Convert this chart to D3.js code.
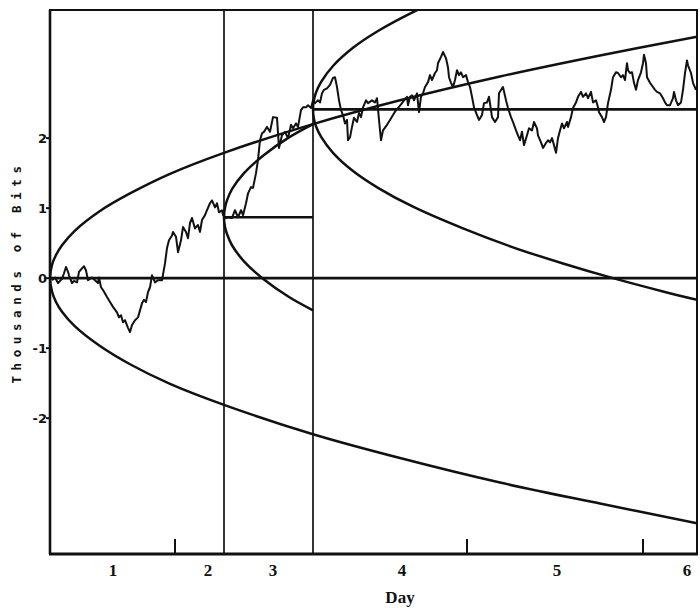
<!DOCTYPE html>
<html>
<head>
<meta charset="utf-8">
<script src="https://cdn.jsdelivr.net/npm/d3@7"></script>
<style>
  body { margin: 0; background: #fff; }
  svg { display: block; }
  .dayText { font-family: "Liberation Serif", serif; font-weight: bold; font-size: 17px; fill: #111; }
  .tickText { font-family: "DejaVu Sans", sans-serif; font-weight: bold; font-size: 13px; fill: #111; }
  .yTitle { font-family: "DejaVu Sans Mono", monospace; font-weight: bold; font-size: 12.5px; fill: #111; letter-spacing: 5.6px; }
</style>
</head>
<body>
<div id="chart"></div>
<script>
// random walk, time units vs thousands of bits
var walkT = [2,5,8,12,14,16,18,19,22,24,27,29,32,34,36,38,42,45,48,49,51,53,57,60,63,67,69,71,73,75,78,80,82,85,88,90,92,94,96,98,100,102,105,108,
  112,115,117,119,122,123,126,128,131,133,136,138,140,142,145,148,150,152,155,157,160,162,165,167,169,172,173,176,178,182,185,188,191,193,196,198,201,203,206,208,210,212,214,217,
  220,223,227,229,232,235,238,241,243,246,248,251,253,256,258,261,263,265,268,270,272,274,277,280,283,285,287,289,291,293,295,297,298,300,302,304,307,309,311,313,316,318,322,325,
  327,329,331,333,337,340,343,346,348,352,354,357,358,360,362,364,367,369,371,373,375,378,380,382,385,387,388,391,393,396,398,399,401,403,405,407,409,411,413,416,418,420,422,424,427,429,432,434,437,439,
  441,442,445,448,449,452,453,456,458,461,463,466,468,470,472,474,477,479,482,484,487,488,491,493,496,498,500,502,504,506,508,510,512,514,517,518,521,523,526,528,531,533,536,538,541,543,546,548,
  549,552,554,556,558,561,563,566,568,571,573,575,577,578,580,582,584,586,588,591,593,594,596,597,600,603,605,607,610,613,615,617,620,623,624,626,628,631,633,635,637,638,641,643,646];
var walkV = [-0.03,0.01,-0.07,-0.01,0.07,0.16,0.09,0.04,-0.07,-0.04,-0.06,0.09,0.14,0.17,0.11,-0.03,0.01,-0.03,-0.07,0.01,-0.13,-0.17,-0.27,-0.34,-0.41,-0.49,-0.56,-0.53,-0.63,-0.6,-0.71,-0.77,-0.67,-0.6,-0.56,-0.46,-0.36,-0.31,-0.34,-0.2,-0.13,0.04,-0.06,-0.03,
  -0.03,0.21,0.43,0.54,0.61,0.66,0.59,0.37,0.54,0.73,0.66,0.57,0.79,0.86,0.71,0.76,0.66,0.83,0.9,0.97,1.07,1.11,1.01,1.07,0.94,0.97,0.9,0.86,0.87,0.86,0.97,0.87,0.97,0.9,1.07,1.21,1.3,1.29,1.5,1.69,1.97,2.07,2.09,2.16,
  2.09,2.3,2.29,1.86,2.04,2.09,2.0,2.19,2.14,2.21,2.16,2.4,2.44,2.44,2.47,2.43,2.54,2.5,2.54,2.51,2.64,2.69,2.71,2.76,2.86,2.87,2.73,2.54,2.4,2.33,2.21,2.26,1.97,2.01,2.16,2.29,2.23,2.36,2.3,2.44,2.54,2.5,2.54,2.51,
  2.57,2.26,1.97,2.11,2.19,2.26,2.33,2.4,2.43,2.5,2.54,2.59,2.47,2.59,2.61,2.54,2.64,2.37,2.59,2.64,2.73,2.8,2.9,2.83,2.93,2.97,3.07,3.16,3.23,3.14,3.01,2.87,2.79,2.73,2.83,2.97,2.9,2.94,2.87,2.9,2.8,2.73,2.59,2.44,2.33,2.26,2.33,2.5,2.51,2.59,
  2.4,2.3,2.23,2.3,2.64,2.71,2.73,2.54,2.43,2.3,2.23,2.11,2.04,1.97,2.09,1.9,2.04,2.14,2.11,2.23,2.14,2.04,1.94,1.86,1.93,1.97,1.94,2.0,1.9,1.79,2.0,2.11,2.21,2.14,2.23,2.16,2.3,2.43,2.51,2.59,2.66,2.59,2.64,2.57,2.66,2.51,2.54,2.44,
  2.37,2.3,2.23,2.3,2.5,2.69,2.87,2.94,2.93,2.87,2.9,2.83,3.07,2.97,2.93,2.94,2.79,2.69,2.83,2.94,3.07,3.19,3.07,2.87,2.79,2.73,2.69,2.66,2.64,2.57,2.51,2.47,2.47,2.57,2.66,2.54,2.47,2.51,2.69,2.93,3.11,3.04,2.93,2.79,2.69];

// first test boundaries (start at time 0)
var p1T = [0,2,6,12,25,50,80,120,174,263,350,450,550,647];
var p1Upper = [0,0.19,0.33,0.47,0.68,0.96,1.21,1.49,1.79,2.2,2.54,2.88,3.18,3.45];
var p1Lower = [0,-0.19,-0.34,-0.48,-0.69,-0.97,-1.23,-1.51,-1.81,-2.23,-2.57,-2.92,-3.22,-3.5];

// second test boundaries (restart at first vertical)
var p2T = [174,175,177,182,194,214,239,263];
var p2Upper = [0.87,1.01,1.11,1.27,1.5,1.76,2.01,2.2];
var p2Lower = [0.87,0.73,0.63,0.47,0.24,-0.02,-0.27,-0.46];

// third test boundaries (restart at second vertical)
var p3UpperT = [263,264,266,271,283,303,328,363,383];
var p3Upper = [2.41,2.55,2.65,2.8,3.03,3.29,3.53,3.8,3.93];
var p3LowerT = [263,264,266,271,283,303,328,363,413,463,513,563,613,647];
var p3Lower = [2.41,2.27,2.17,2.02,1.79,1.53,1.29,1.02,0.71,0.44,0.21,0.0,-0.19,-0.31];

// restart levels
var levelStart = [0,174,263];
var levelEnd = [647,263,647];
var levelValue = [0,0.87,2.41];

var restartT = [174,263];
var dayTickT = [125,417,593];
var dayLabels = ["1","2","3","4","5","6"];
var dayLabelT = [63,158,223,352,507,637];
var yTicks = [-2,-1,0,1,2];

var svgWidth = 700;
var svgHeight = 608;

var svg = d3.select("#chart").append("svg")
  .attr("width", svgWidth)
  .attr("height", svgHeight);

var xScale = d3.scaleLinear().domain([0,647]).range([50,697]);
var yScale = d3.scaleLinear().domain([-3.94,3.83]).range([554,10]);

svg.append("clipPath").attr("id","plotClip")
  .append("rect")
  .attr("x", xScale(0)).attr("y", yScale(3.83))
  .attr("width", xScale(647)-xScale(0))
  .attr("height", yScale(-3.94)-yScale(3.83));

var plot = svg.append("g").attr("clip-path","url(#plotClip)");

// boundary curves: upper branch reversed, then lower branch
function boundary(upT, up, loT, lo) {
  var pts = [];
  for (var i = upT.length-1; i >= 0; i--) pts.push([upT[i], up[i]]);
  for (var j = 1; j < loT.length; j++) pts.push([loT[j], lo[j]]);
  return pts;
}
var curveLine = d3.line()
  .x(d => xScale(d[0]))
  .y(d => yScale(d[1]))
  .curve(d3.curveCatmullRom.alpha(0.5));

[[p1T,p1Upper,p1T,p1Lower],[p2T,p2Upper,p2T,p2Lower],[p3UpperT,p3Upper,p3LowerT,p3Lower]].forEach(function(p) {
  plot.append("path")
    .attr("d", curveLine(boundary(p[0],p[1],p[2],p[3])))
    .attr("fill","none")
    .attr("stroke","#111")
    .attr("stroke-width",2.5);
});

// restart levels
levelValue.forEach(function(v,i) {
  plot.append("line")
    .attr("x1", xScale(levelStart[i])).attr("x2", xScale(levelEnd[i]))
    .attr("y1", yScale(v)).attr("y2", yScale(v))
    .attr("stroke","#111").attr("stroke-width",2.7);
});

// restart verticals
restartT.forEach(function(t) {
  svg.append("line")
    .attr("x1", xScale(t)).attr("x2", xScale(t))
    .attr("y1", yScale(3.83)).attr("y2", yScale(-3.94))
    .attr("stroke","#111").attr("stroke-width",1.7);
});

// walk
var walkLine = d3.line()
  .x((d,i) => xScale(walkT[i]))
  .y(d => yScale(d));
plot.append("path")
  .attr("d", walkLine(walkV))
  .attr("fill","none")
  .attr("stroke","#111")
  .attr("stroke-width",2)
  .attr("stroke-linejoin","round");

// frame
svg.append("rect")
  .attr("x", xScale(0)).attr("y", yScale(3.83))
  .attr("width", xScale(647)-xScale(0))
  .attr("height", yScale(-3.94)-yScale(3.83))
  .attr("fill","none").attr("stroke","#111").attr("stroke-width",2);
svg.append("line")
  .attr("x1", xScale(0)-1).attr("x2", xScale(647)+1)
  .attr("y1", yScale(-3.94)).attr("y2", yScale(-3.94))
  .attr("stroke","#111").attr("stroke-width",3);
svg.append("line")
  .attr("x1", xScale(0)).attr("x2", xScale(0))
  .attr("y1", yScale(3.83)).attr("y2", yScale(-3.94))
  .attr("stroke","#111").attr("stroke-width",2.6);

// day ticks
dayTickT.forEach(function(t) {
  svg.append("line")
    .attr("x1", xScale(t)).attr("x2", xScale(t))
    .attr("y1", yScale(-3.94)).attr("y2", yScale(-3.94)-15)
    .attr("stroke","#111").attr("stroke-width",2);
});

// day labels
svg.selectAll(".dayText").data(dayLabels).enter()
  .append("text")
  .attr("class","dayText")
  .attr("x", (d,i) => xScale(dayLabelT[i]))
  .attr("y", 576)
  .attr("text-anchor","middle")
  .text(d => d);

svg.append("text")
  .attr("class","dayText")
  .attr("x", 400).attr("y", 603)
  .attr("text-anchor","middle")
  .text("Day");

// y ticks and labels
yTicks.forEach(function(v) {
  svg.append("line")
    .attr("x1", xScale(0)-4).attr("x2", xScale(0))
    .attr("y1", yScale(v)).attr("y2", yScale(v))
    .attr("stroke","#111").attr("stroke-width",2);
  svg.append("text")
    .attr("class","tickText")
    .attr("x", xScale(0)-3)
    .attr("y", yScale(v)+5)
    .attr("text-anchor","end")
    .text(v < 0 ? "-" + Math.abs(v) : v);
});

svg.append("text")
  .attr("class","yTitle")
  .attr("transform","translate(21,272) rotate(-90)")
  .attr("text-anchor","middle")
  .text("Thousands of Bits");
</script>
</body>
</html>
